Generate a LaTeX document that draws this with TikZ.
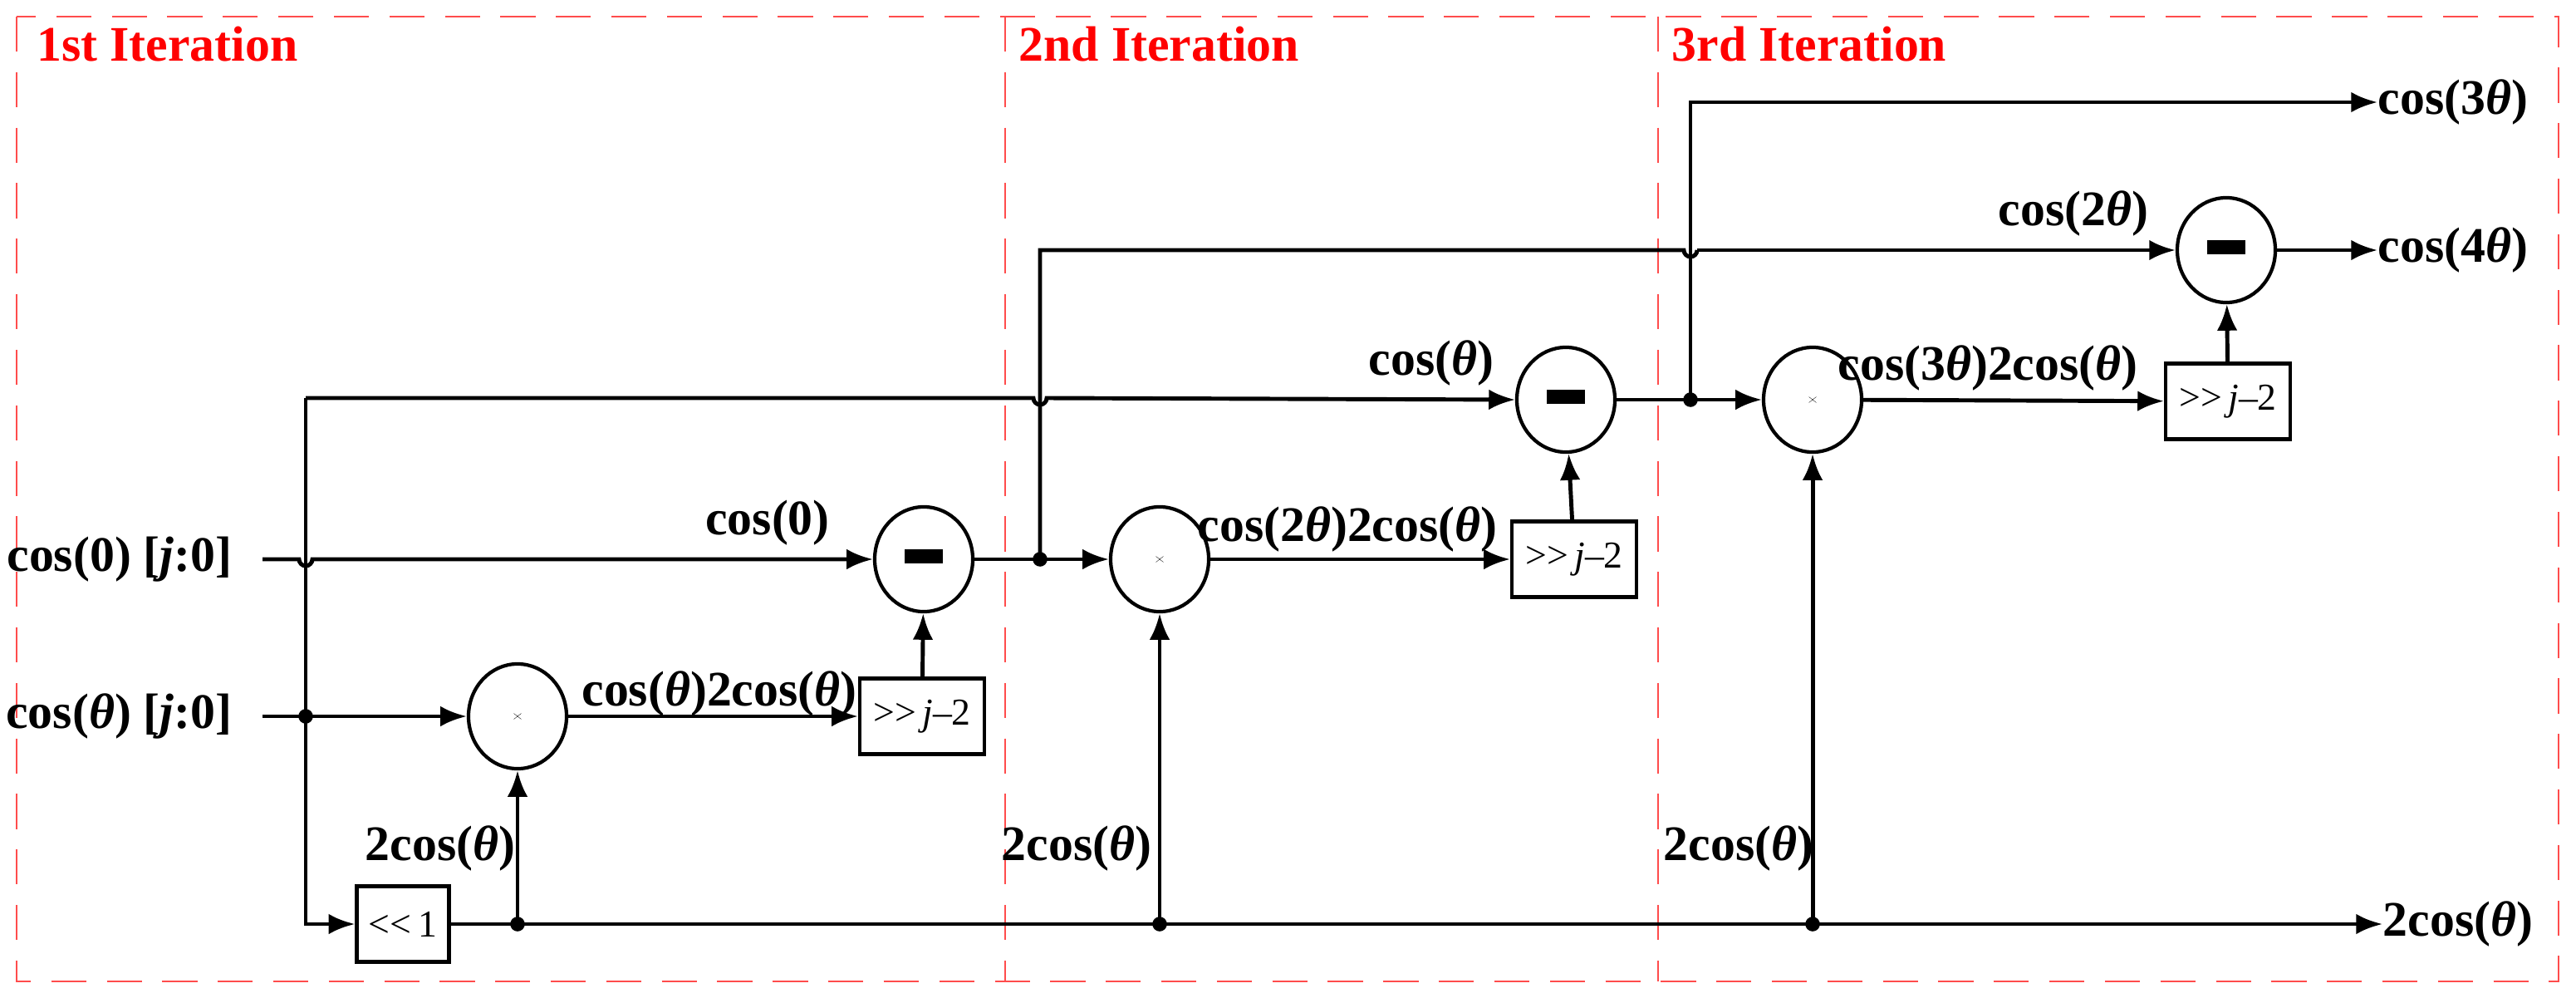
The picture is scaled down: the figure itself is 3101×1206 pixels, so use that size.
\documentclass[tikz,border=0pt]{standalone}
\usepackage{fontspec}
\setmainfont{Liberation Serif}
\usetikzlibrary{shapes.geometric,arrows.meta}
\newcommand{\mybar}{\rule[2pt]{13pt}{5pt}}
\newcommand{\mycross}{\tikz[line width=3.2pt]{\draw (0,0)--(0.22,0.28) (0,0.28)--(0.22,0);}}
\begin{document}
\begin{tikzpicture}[x=0.01cm,y=-0.01cm,
  lbl/.style={font=\fontsize{17}{20}\selectfont\bfseries,inner sep=0},
  ttl/.style={font=\fontsize{17}{20}\selectfont\bfseries,text=red,inner sep=0,anchor=west},
  op/.style={ellipse,draw,line width=1.2pt,minimum width=1.18cm,minimum height=1.26cm,inner sep=0},
  bx/.style={draw,line width=1.2pt,minimum width=1.5cm,minimum height=0.91cm,inner sep=0,font=\fontsize{13}{15}\selectfont},
  ln/.style={line width=1.4pt,-{Latex[length=9pt,width=7pt]}},
  pl/.style={line width=1.4pt},
  dot/.style={circle,fill,inner sep=0,minimum size=5pt}]
\useasboundingbox (0,0) rectangle (3101,1206);
\draw[red!70,dashed,dash pattern=on 12pt off 7pt,line width=0.8pt] (20,20) rectangle (3080,1181) (1210,20) -- (1210,1181) (1996,20) -- (1996,1181);
\node[ttl] at (44,53) {1st Iteration};
\node[ttl] at (1226,53) {2nd Iteration};
\node[ttl] at (2012,53) {3rd Iteration};
% nodes
\node[op] (m1) at (1112,673) {\mybar};
\node[op] (t1) at (623,862) {\mycross};
\node[bx] (r1) at (1110,862) {{>}{>}\,\textit{j}–2};
\node[bx,minimum width=1.11cm] (s1) at (485,1112) {{<}{<}\,1};
\node[op] (t2) at (1396,673) {\mycross};
\node[bx] (r2) at (1895,673) {{>}{>}\,\textit{j}–2};
\node[op] (m2) at (1885,481) {\mybar};
\node[op] (t3) at (2182,481) {\mycross};
\node[bx] (r3) at (2682,483) {{>}{>}\,\textit{j}–2};
\node[op] (m3) at (2680,301) {\mybar};
% inputs/outputs
\node[lbl,anchor=east] (in0) at (280,673) {cos(0) [\textit{j}:0]};
\node[lbl,anchor=east] (in1) at (280,862) {cos(\textit{θ}) [\textit{j}:0]};
\node[lbl,anchor=west] (o3) at (2862,123) {cos(3\textit{θ})};
\node[lbl,anchor=west] (o4) at (2862,301) {cos(4\textit{θ})};
\node[lbl,anchor=west] (o2) at (2868,1112) {2cos(\textit{θ})};
\coordinate (i0) at (316,673);
\coordinate (i1) at (316,862);
\node[dot] (d0) at (368,862) {};
\node[dot] (d1) at (1252,673) {};
\node[dot] (d2) at (2035,481) {};
\node[dot] (b1) at (623,1112) {};
\node[dot] (b2) at (1396,1112) {};
\node[dot] (b3) at (2182,1112) {};
% connectors
\draw[ln] (i0) -- (360,673) arc (180:0:8) -- (m1.west);
\draw[ln] (i1) -- (t1.west);
\draw[ln] (368,479) -- (1244,479) arc (180:0:8) -- (m2.west);
\draw[pl] (368,479) -- (d0.center);
\draw[ln] (d0.center) |- (s1.west);
\draw[ln] (s1.east) -- (o2.west);
\draw[ln] (b1.center) -- (t1.south);
\draw[ln] (b2.center) -- (t2.south);
\draw[ln] (b3.center) -- (t3.south);
\draw[ln] (t1) -- (r1);
\draw[ln] (r1) -- (m1);
\draw[ln] (m1) -- (t2);
\draw[pl] (d1.center) -- (1252,301) -- (2027,301) arc (180:0:8);
\draw[ln] (2043,301) -- (m3.west);
\draw[ln] (t2) -- (r2);
\draw[ln] (r2) -- (m2);
\draw[ln] (m2) -- (t3);
\draw[ln] (d2.center) |- (o3.west);
\draw[ln] (t3) -- (r3);
\draw[ln] (r3) -- (m3);
\draw[ln] (m3) -- (o4);
% labels
\node[lbl] at (924,629) {cos(0)};
\node[lbl] at (866,835) {cos(\textit{θ})2cos(\textit{θ})};
\node[lbl] at (530,1021) {2cos(\textit{θ})};
\node[lbl] at (1622,637) {cos(2\textit{θ})2cos(\textit{θ})};
\node[lbl] at (1296,1021) {2cos(\textit{θ})};
\node[lbl] at (1723,437) {cos(\textit{θ})};
\node[lbl] at (2393,443) {cos(3\textit{θ})2cos(\textit{θ})};
\node[lbl] at (2496,257) {cos(2\textit{θ})};
\node[lbl] at (2093,1021) {2cos(\textit{θ})};
\end{tikzpicture}
\end{document}
